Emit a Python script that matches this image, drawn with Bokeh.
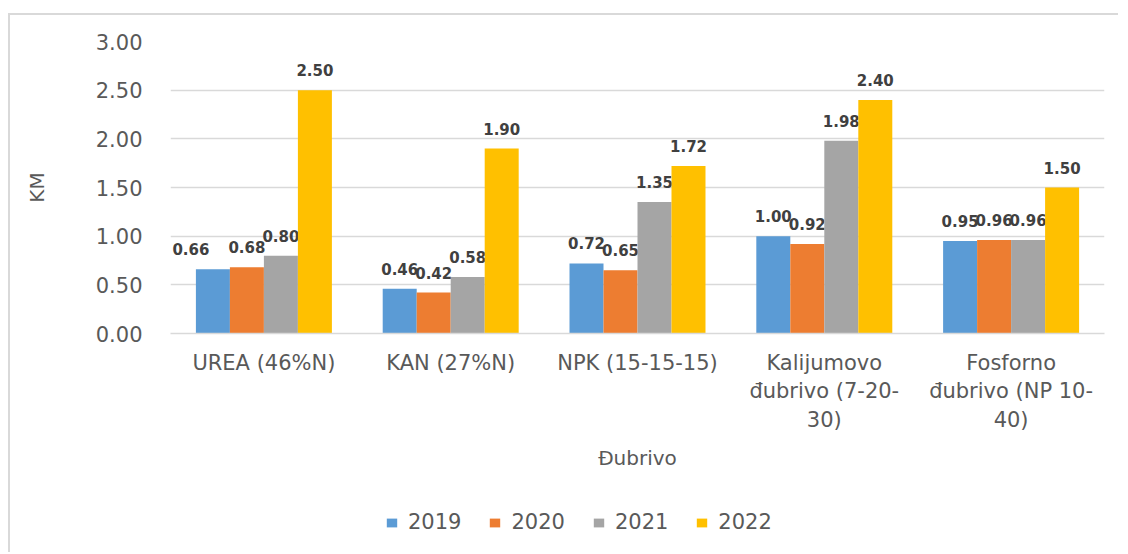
from bokeh.plotting import figure
from bokeh.layouts import column
from bokeh.models import (FactorRange, Range1d, NumeralTickFormatter, FixedTicker,
                          ColumnDataSource, Legend, LegendItem)
from bokeh.transform import dodge
from bokeh.core.properties import value
from bokeh.embed import file_html
from bokeh.resources import INLINE

categories = ["UREA (46%N)", "KAN (27%N)", "NPK (15-15-15)",
              "Kalijumovo\nđubrivo (7-20-\n30)", "Fosforno\nđubrivo (NP 10-\n40)"]
years = ["2019", "2020", "2021", "2022"]
v2019 = [0.66, 0.46, 0.72, 1.00, 0.95]
v2020 = [0.68, 0.42, 0.65, 0.92, 0.96]
v2021 = [0.80, 0.58, 1.35, 1.98, 0.96]
v2022 = [2.50, 1.90, 1.72, 2.40, 1.50]
series = [v2019, v2020, v2021, v2022]
colors = ["#5b9bd5", "#ed7d31", "#a5a5a5", "#ffc000"]
y_ticks = [0, 0.5, 1.0, 1.5, 2.0, 2.5, 3.0]
# horizontal nudges (px) of individual data labels, as placed in the original
label_nudge = [[-22, 0, 0, 0, 0], [0] * 5, [0] * 5, [0] * 5]

FONT = "DejaVu Sans"
BORDER = "2px solid #d9d9d9"

p = figure(x_range=FactorRange(*categories), y_range=Range1d(0, 3),
           width=1110, height=465, output_backend="svg", toolbar_location=None,
           min_border_left=160, min_border_right=16, min_border_top=26, min_border_bottom=147)
p.styles = {"border-left": BORDER, "border-top": BORDER,
            "margin-top": "13px", "margin-left": "8px"}
p.outline_line_color = None
p.background_fill_color = "white"
p.border_fill_color = "white"

# legend-only strip below the chart (its bars fall outside its y range)
pl = figure(x_range=FactorRange(*categories), y_range=Range1d(10, 11),
            width=1110, height=74, output_backend="svg", toolbar_location=None,
            x_axis_location=None, y_axis_location=None,
            min_border_left=0, min_border_right=0, min_border_top=0, min_border_bottom=0)
pl.styles = {"border-left": BORDER, "margin-left": "8px"}
pl.outline_line_color = None
pl.xgrid.grid_line_color = None
pl.ygrid.grid_line_color = None

bar_w = 0.182
offsets = [-1.5 * bar_w, -0.5 * bar_w, 0.5 * bar_w, 1.5 * bar_w]
items = []
for yr, vals, col, off, nud in zip(years, series, colors, offsets, label_nudge):
    src = ColumnDataSource(dict(cat=categories, val=vals, nud=nud,
                                lab=["%.2f" % v for v in vals]))
    p.vbar(x=dodge("cat", off, range=p.x_range), top="val", width=bar_w, source=src,
           fill_color=col, line_color=None)
    p.text(x=dodge("cat", off, range=p.x_range), y="val", text="lab", source=src,
           x_offset="nud", text_align="center", text_baseline="bottom", y_offset=-14,
           text_font=value(FONT), text_font_style="bold", text_font_size="15px",
           text_color="#404040")
    rl = pl.vbar(x=dodge("cat", off, range=pl.x_range), top="val", width=bar_w, source=src,
                 fill_color=col, line_color=None)
    items.append(LegendItem(label=yr, renderers=[rl]))

# axes
p.yaxis.ticker = FixedTicker(ticks=y_ticks)
p.yaxis.formatter = NumeralTickFormatter(format="0.00")
p.yaxis.axis_line_color = None
p.yaxis.major_tick_line_color = None
p.yaxis.minor_tick_line_color = None
p.yaxis.major_label_text_font = FONT
p.yaxis.major_label_text_font_size = "21px"
p.yaxis.major_label_text_color = "#595959"
p.yaxis.major_label_standoff = 22
p.yaxis.axis_label = "KM"
p.yaxis.axis_label_text_font = FONT
p.yaxis.axis_label_text_font_size = "20px"
p.yaxis.axis_label_text_font_style = "normal"
p.yaxis.axis_label_text_color = "#595959"
p.yaxis.axis_label_standoff = 44

p.xaxis.axis_line_color = "#d9d9d9"
p.xaxis.axis_line_width = 1.5
p.xaxis.major_tick_line_color = None
p.xaxis.minor_tick_line_color = None
p.xaxis.major_label_text_font = FONT
p.xaxis.major_label_text_font_size = "21px"
p.xaxis.major_label_text_color = "#595959"
p.xaxis.major_label_text_line_height = 1.2
p.xaxis.major_label_standoff = 11
p.xaxis.axis_label = "Đubrivo"
p.xaxis.axis_label_text_font = FONT
p.xaxis.axis_label_text_font_size = "20px"
p.xaxis.axis_label_text_font_style = "normal"
p.xaxis.axis_label_text_color = "#595959"
p.xaxis.axis_label_standoff = 11

p.xgrid.grid_line_color = None
p.ygrid.grid_line_color = "#d9d9d9"
p.ygrid.grid_line_width = 1.5
p.ygrid.ticker = FixedTicker(ticks=y_ticks)

legend = Legend(items=items, orientation="horizontal", location=(215, 18),
                glyph_width=13, glyph_height=11, label_standoff=10, spacing=27,
                padding=0, margin=0, border_line_color=None, background_fill_alpha=0,
                label_text_font=FONT, label_text_font_size="21px", label_text_color="#595959")
pl.add_layout(legend, "center")

layout = column(p, pl, spacing=0)
open("out.html", "w").write(file_html(layout, INLINE))
